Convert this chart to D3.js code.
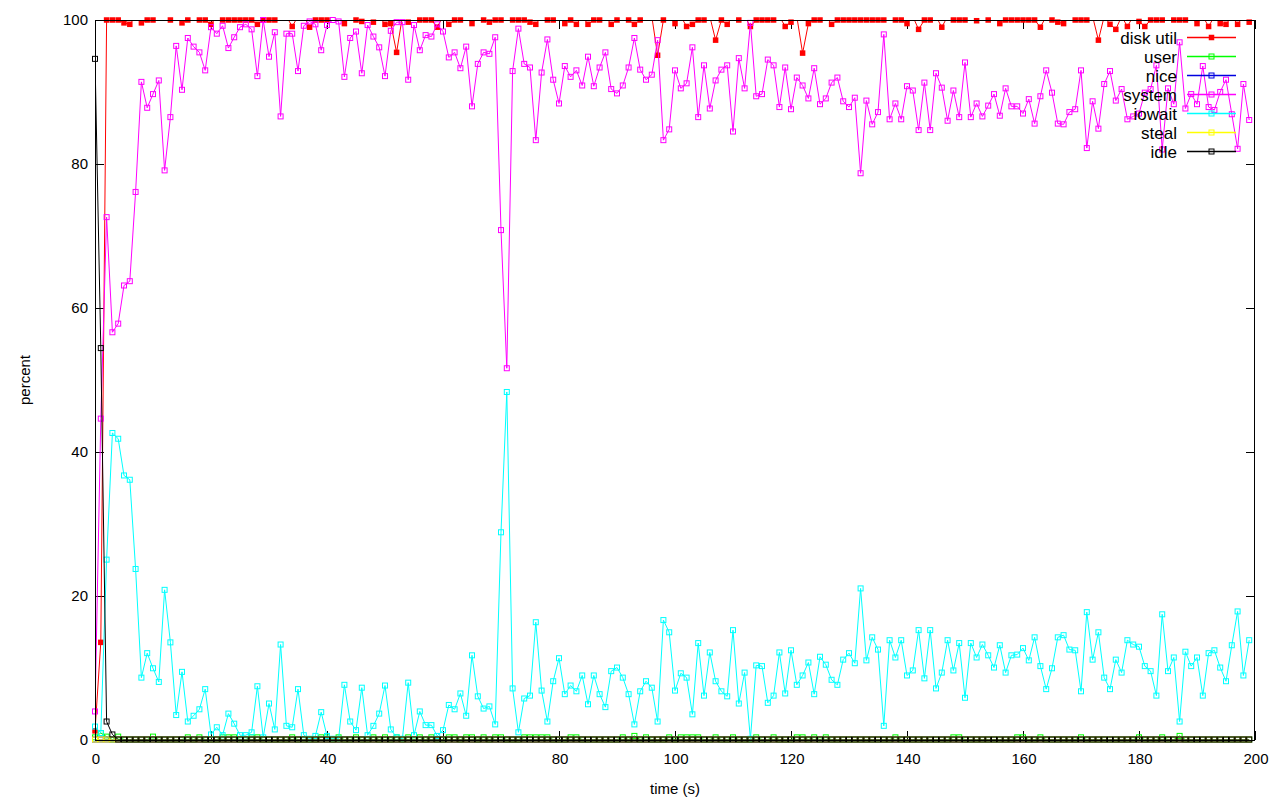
<!DOCTYPE html>
<html><head><meta charset="utf-8">
<script src="https://cdn.jsdelivr.net/npm/d3@7"></script>
<style>html,body{margin:0;padding:0;background:#fff}svg{display:block}text{font-family:"Liberation Sans",Arial,sans-serif;font-size:15px;fill:#000}</style>
</head><body>
<svg id="c" width="1280" height="800"></svg>
<script>
// time axis (s)
const times = d3.range(0, 200);
const xTicks = [0,20,40,60,80,100,120,140,160,180,200];
const yTicks = [0,20,40,60,80,100];
const seriesNames = ["disk util","user","nice","system","iowait","steal","idle"];
const seriesColors = ["#ff0000","#00ff00","#0000e0","#ff00ff","#00ffff","#ffff00","#000000"];

// values above 100 are outside the plotted range (clipped at the top border)
const diskUtil = [
1.2,13.5,100,100,100,99.6,99.4,100.5,99.6,100,100,100.5,100.5,100,100.5,99.6,100,100.5,100,100,
99.4,100.5,100,100,100,100,100,100,99.4,100,100,100,100.5,100.5,99.1,100.5,100.5,99.0,100,100,
100,100.5,100.5,99.5,100.5,100,99.8,100.5,99.7,100.5,99.4,99.5,95.5,100.5,99.7,100.5,100,100,100,99.0,
100.5,99.4,100,100,100.5,99.5,100.5,100,99.7,100,100,100.5,100,100,100,99.7,99.4,100.5,100,100,
100.5,99.5,100,99.4,100.5,99.4,100,100,100.5,99.4,100,100.5,100,99.4,100,100.5,100.5,95.1,100,100.5,
99.5,100.5,99.1,99.4,100,100,100.5,97.2,100,99.4,100.5,100,100.5,99.1,100,100,100,100,100.5,99.1,
99.7,100.5,95.4,99.5,100,100,100.5,99.4,100,100,100,100,100,100,100,100,100,100.5,100,100,
99.5,100.5,98.7,100,100,100.5,99.0,100.5,100,100,100,100.5,99.9,100.5,100,100.5,99.5,100,100,100,
100,100,100,99.0,100.5,100,99.7,99.5,100.5,100,100,100,100.5,97.2,100.5,99.4,98.7,100.5,99.1,100.5,
99.8,99.1,100,100,100,100.5,100,100,100,100.5,99.5,100.5,99.1,100.5,99.5,99.4,100.5,99.4,100.5,99.7];

const user = [
.3,.9,.4,0,.4,0,0,0,0,0,.4,0,0,0,0,0,.3,0,.3,0,
0,0,.3,.3,.3,0,0,.3,.3,0,0,0,0,0,.3,0,0,0,0,.3,
.3,0,.3,0,0,.3,0,0,.3,0,.3,0,.3,0,.3,0,.3,0,.3,0,
0,.3,.3,0,.3,.3,0,.3,0,.3,.3,0,0,0,.3,.3,.3,.3,.3,0,
0,0,.3,.3,0,0,0,0,0,0,0,.3,0,.5,0,.3,0,0,0,.3,
0,.3,.3,.3,.3,0,0,.3,0,0,.3,0,0,0,.3,0,0,.3,0,0,
0,.3,.3,0,.3,0,.3,0,0,0,0,0,0,0,0,0,0,0,.3,0,
0,0,0,0,0,0,0,0,.3,.3,0,0,0,0,0,0,0,0,0,.3,
.3,0,0,.3,0,0,0,0,0,0,.3,0,0,0,0,0,0,0,0,0,
.3,0,0,0,.3,0,0,.5,0,0,0,0,0,0,0,0,0,0,0,0];

const nice = [
0,0,0,0,0,0,0,0,0,0,0,0,0,0,0,0,0,0,0,0,
0,0,0,0,0,0,0,0,0,0,0,0,0,0,0,0,0,0,0,0,
0,0,0,0,0,0,0,0,0,0,0,0,0,0,0,0,0,0,0,0,
0,0,0,0,0,0,0,0,0,0,0,0,0,0,0,0,0,0,0,0,
0,0,0,0,0,0,0,0,0,0,0,0,0,0,0,0,0,0,0,0,
0,0,0,0,0,0,0,0,0,0,0,0,0,0,0,0,0,0,0,0,
0,0,0,0,0,0,0,0,0,0,0,0,0,0,0,0,0,0,0,0,
0,0,0,0,0,0,0,0,0,0,0,0,0,0,0,0,0,0,0,0,
0,0,0,0,0,0,0,0,0,0,0,0,0,0,0,0,0,0,0,0,
0,0,0,0,0,0,0,0,0,0,0,0,0,0,0,0,0,0,0,0];

const system = [
3.9,44.6,72.6,56.6,57.8,63.1,63.7,76.1,91.4,87.8,89.7,91.6,79.1,86.5,96.4,90.3,97.5,96.3,95.5,93.0,
99.0,98.1,99.2,96.1,97.6,99.0,99.4,98.7,92.2,100,94.9,98.3,86.6,98.1,98.1,92.9,99.2,99.8,99.4,95.8,
99.3,100,99.8,92.1,97.5,98.4,92.6,99.3,97.7,96.2,92.2,98.5,99.7,99.7,91.7,99.3,95.8,97.9,97.7,99.4,
98.4,94.8,95.5,93.3,96.3,88.0,93.9,95.5,95.3,97.6,70.8,51.6,92.9,98.8,93.9,93.4,83.3,92.7,97.3,91.7,
88.4,93.6,92.1,93.0,90.9,94.9,90.8,93.4,95.5,90.4,89.8,90.9,93.4,97.5,93.1,91.7,92.4,97.2,83.3,84.8,
93.0,90.5,91.2,96.2,86.5,93.7,87.7,91.6,93.1,93.7,84.5,94.7,90.5,99.6,89.4,89.7,94.5,93.7,87.9,93.4,
87.6,92.0,90.9,89.1,93.3,88.3,89.1,91.3,92.0,88.7,87.9,89.2,78.7,88.8,85.5,87.2,98.0,86.2,88.4,86.2,
90.8,90.2,84.7,91.3,84.7,92.6,90.6,86.0,90.2,86.5,94.1,86.5,88.4,86.6,88.1,89.7,86.7,90.5,88.0,88.0,
87.0,89.0,85.6,89.4,93.0,89.9,85.6,85.5,87.2,87.6,93.0,82.2,88.7,84.9,91.1,92.9,88.8,90.4,86.2,86.6,
87.0,89.9,90.4,93.7,82.0,90.5,88.3,96.9,87.7,89.7,88.3,93.6,87.9,87.5,90.0,91.7,86.9,82.1,91.1,86.1];

const iowait = [
1.8,0.9,25.0,42.6,41.8,36.7,36.1,23.7,8.6,12.0,9.9,8.0,20.8,13.5,3.4,9.4,2.5,3.3,4.2,7.0,
0.7,1.7,0.6,3.6,2.2,0.6,0.6,1.0,7.4,0.3,5.0,1.4,13.2,1.9,1.7,7.0,0.6,0.1,0.5,3.8,
0.5,0.1,0.1,7.6,2.5,1.3,7.2,0.6,1.9,3.6,7.5,1.4,0.3,0.1,7.9,0.6,3.9,2.0,2.0,0.5,
1.3,4.8,4.2,6.4,3.3,11.7,6.0,4.3,4.6,2.1,28.8,48.3,7.1,1.0,5.7,6.1,16.3,6.8,2.5,8.1,
11.3,6.3,7.5,6.7,8.9,4.9,8.9,6.3,4.5,9.5,10.0,8.6,6.3,2.1,6.7,8.1,7.2,2.5,16.6,14.9,
6.8,9.2,8.6,3.5,13.4,6.1,12.1,8.1,6.7,6.0,15.2,5.0,9.3,0.1,10.3,10.2,5.1,6.1,12.1,6.4,
12.4,7.6,8.9,10.7,6.3,11.5,10.4,8.3,7.6,11.1,12.0,10.6,21.0,11.0,14.2,12.5,1.9,13.8,11.4,13.8,
8.9,9.6,15.2,8.5,15.2,7.1,9.3,13.8,9.6,13.4,5.8,13.4,11.4,13.2,11.7,10.0,13.1,9.3,11.7,11.8,
12.7,11.0,14.2,10.2,7.0,9.9,14.2,14.5,12.5,12.4,6.7,17.7,11.1,14.9,8.6,7.0,11.1,9.3,13.8,13.2,
12.9,10.2,9.5,6.1,17.4,9.5,11.4,2.5,12.2,10.2,11.4,6.1,12.0,12.4,10.0,8.1,13.1,17.8,8.9,13.8];

const steal = [
0,0,0,0,0,0,0,0,0,0,0,0,0,0,0,0,0,0,0,0,
0,0,0,0,0,0,0,0,0,0,0,0,0,0,0,0,0,0,0,0,
0,0,0,0,0,0,0,0,0,0,0,0,0,0,0,0,0,0,0,0,
0,0,0,0,0,0,0,0,0,0,0,0,0,0,0,0,0,0,0,0,
0,0,0,0,0,0,0,0,0,0,0,0,0,0,0,0,0,0,0,0,
0,0,0,0,0,0,0,0,0,0,0,0,0,0,0,0,0,0,0,0,
0,0,0,0,0,0,0,0,0,0,0,0,0,0,0,0,0,0,0,0,
0,0,0,0,0,0,0,0,0,0,0,0,0,0,0,0,0,0,0,0,
0,0,0,0,0,0,0,0,0,0,0,0,0,0,0,0,0,0,0,0,
0,0,0,0,0,0,0,0,0,0,0,0,0,0,0,0,0,0,0,0];

const idle = [
94.6,54.4,2.5,0.7,0,0,0,0,0,0,0,0,0,0,0,0,0,0,0,0,
0,0,0,0,0,0,0,0,0,0,0,0,0,0,0,0,0,0,0,0,
0,0,0,0,0,0,0,0,0,0,0,0,0,0,0,0,0,0,0,0,
0,0,0,0,0,0,0,0,0,0,0,0,0,0,0,0,0,0,0,0,
0,0,0,0,0,0,0,0,0,0,0,0,0,0,0,0,0,0,0,0,
0,0,0,0,0,0,0,0,0,0,0,0,0,0,0,0,0,0,0,0,
0,0,0,0,0,0,0,0,0,0,0,0,0,0,0,0,0,0,0,0,
0,0,0,0,0,0,0,0,0,0,0,0,0,0,0,0,0,0,0,0,
0,0,0,0,0,0,0,0,0,0,0,0,0,0,0,0,0,0,0,0,
0,0,0,0,0,0,0,0,0,0,0,0,0,0,0,0,0,0,0,0];

const seriesValues = [diskUtil, user, nice, system, iowait, steal, idle];
const filledMarker = [true,false,false,false,false,false,false];

const L = 95, R = 1255, T = 20, B = 739.5;
const x = d3.scaleLinear().domain([0,200]).range([L,R]);
const y = d3.scaleLinear().domain([0,100]).range([B,T]);
const svg = d3.select("#c");

svg.append("defs").append("clipPath").attr("id","clip")
  .append("rect").attr("x",L).attr("y",T).attr("width",R-L).attr("height",B-T);

// ticks (inward, mirrored)
const tl = 9;
const g = svg.append("g").attr("shape-rendering","crispEdges").attr("stroke","#000").attr("stroke-width",1);
xTicks.forEach(v => {
  const px = Math.round(x(v)) + 0.5;
  g.append("line").attr("x1",px).attr("x2",px).attr("y1",B).attr("y2",B-tl);
  g.append("line").attr("x1",px).attr("x2",px).attr("y1",T).attr("y2",T+tl);
});
yTicks.forEach(v => {
  const py = Math.round(y(v)) + 0.5;
  g.append("line").attr("x1",L).attr("x2",L+tl).attr("y1",py).attr("y2",py);
  g.append("line").attr("x1",R).attr("x2",R-tl).attr("y1",py).attr("y2",py);
});
xTicks.forEach(v => {
  svg.append("text").attr("x",x(v)+1).attr("y",764).attr("text-anchor","middle").text(v);
});
yTicks.forEach(v => {
  svg.append("text").attr("x",88).attr("y",y(v)+5).attr("text-anchor","end").text(v);
});
svg.append("text").attr("x",675).attr("y",794).attr("text-anchor","middle").text("time (s)");
svg.append("text").attr("transform","translate(30,380) rotate(-90)").attr("text-anchor","middle").text("percent");

const ms = 5;   // open marker size (stroke 1px)
const fs = 5.5; // filled marker size
seriesValues.forEach((vals, si) => {
  const col = seriesColors[si];
  const pts = times.map((t,i) => [t, vals[i]]);
  const line = d3.line().x(d => x(d[0])).y(d => y(d[1]));
  svg.append("path").attr("d", line(pts)).attr("fill","none").attr("stroke",col)
    .attr("stroke-width",1).attr("clip-path","url(#clip)");
  const vis = pts.filter(d => d[1] <= 100 && d[1] >= 0);
  const gm = svg.append("g");
  if (filledMarker[si]) {
    gm.selectAll("rect").data(vis).join("rect")
      .attr("x", d => x(d[0]) - fs/2).attr("y", d => y(d[1]) - fs/2)
      .attr("width", fs).attr("height", fs).attr("fill", col);
  } else {
    gm.selectAll("rect").data(vis).join("rect")
      .attr("x", d => x(d[0]) - ms/2).attr("y", d => y(d[1]) - ms/2)
      .attr("width", ms).attr("height", ms)
      .attr("fill", "none").attr("stroke", col).attr("stroke-width", 1);
  }
});

// border
svg.append("rect").attr("x",L+0.5).attr("y",T+0.5).attr("width",R-L-1).attr("height",B-T)
  .attr("fill","none").attr("stroke","#000").attr("shape-rendering","crispEdges");

// legend
const lg = svg.append("g");
seriesNames.forEach((name, si) => {
  const cy = 37.5 + 19*si;
  const col = seriesColors[si];
  lg.append("text").attr("x",1177).attr("y",cy+6).attr("text-anchor","end")
    .style("font-size","17px").text(name);
  lg.append("line").attr("x1",1187).attr("x2",1236).attr("y1",cy).attr("y2",cy)
    .attr("stroke",col).attr("stroke-width",1.5);
  if (filledMarker[si]) {
    lg.append("rect").attr("x",1211.5-fs/2).attr("y",cy-fs/2).attr("width",fs).attr("height",fs).attr("fill",col);
  } else {
    lg.append("rect").attr("x",1211.5-ms/2).attr("y",cy-ms/2).attr("width",ms).attr("height",ms)
      .attr("fill","none").attr("stroke",col);
  }
});
</script>
</body></html>
